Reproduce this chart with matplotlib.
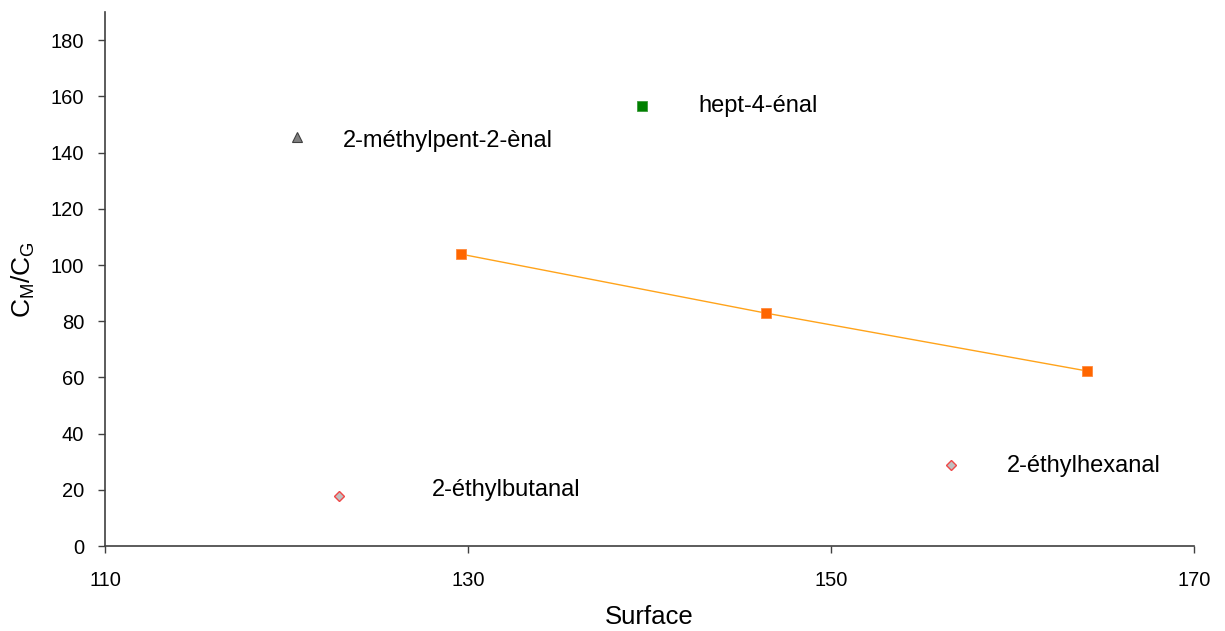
import matplotlib
matplotlib.use("Agg")
import matplotlib.pyplot as plt

plt.rcParams["font.family"] = ["Liberation Sans", "DejaVu Sans"]

# series
linear_x = [129.6, 146.4, 164.1]
linear_y = [103.9, 82.9, 62.3]

tri_x, tri_y = [120.6], [145.6]
green_x, green_y = [139.6], [156.6]
diamond_x = [122.9, 156.6]
diamond_y = [17.8, 28.8]

labels = ["2-méthylpent-2-ènal", "hept-4-énal", "2-éthylbutanal", "2-éthylhexanal"]
label_x = [123.1, 142.7, 128.0, 159.7]
label_y = [144.1, 156.6, 19.9, 28.5]

xticks = [110, 130, 150, 170]
yticks = list(range(0, 181, 20))

fig = plt.figure(figsize=(12.25, 6.31), dpi=100)
ax = fig.add_axes([0.0857, 0.1347, 0.889, 0.846])

ax.plot(linear_x, linear_y, color="#FFA31A", linewidth=1.0, zorder=2)
ax.plot(linear_x, linear_y, linestyle="none", marker="s", markersize=7.5,
        color="#FF6600", markeredgecolor="#FF8A3D", markeredgewidth=0.6, zorder=3)
ax.plot(tri_x, tri_y, linestyle="none", marker="^", markersize=7,
        color="#808080", markeredgecolor="#404040", markeredgewidth=0.8)
ax.plot(green_x, green_y, linestyle="none", marker="s", markersize=7.5,
        color="#008000", markeredgecolor="#3C9A3C", markeredgewidth=0.6)
ax.plot(diamond_x, diamond_y, linestyle="none", marker="D", markersize=5.5,
        color="#C0C0C0", markeredgecolor="#F04848", markeredgewidth=1.0)

for t, x, y in zip(labels, label_x, label_y):
    ax.text(x, y, t, fontsize=17, ha="left", va="center")

ax.set_xlim(110, 170)
ax.set_ylim(0, 190)
ax.set_xticks(xticks)
ax.set_yticks(yticks)
ax.tick_params(axis="both", labelsize=14.5, length=5, width=1, color="#404040",
               direction="out")
ax.tick_params(axis="y", pad=10)
ax.tick_params(axis="x", pad=13)
for side in ("top", "right"):
    ax.spines[side].set_visible(False)
for side in ("left", "bottom"):
    ax.spines[side].set_color("#404040")
    ax.spines[side].set_linewidth(1.2)

ax.set_xlabel("Surface", fontsize=18.5, labelpad=11)
ax.set_ylabel(r"C$\mathregular{_M}$/C$\mathregular{_G}$", fontsize=19, labelpad=10)

fig.savefig("out.png", dpi=100)
